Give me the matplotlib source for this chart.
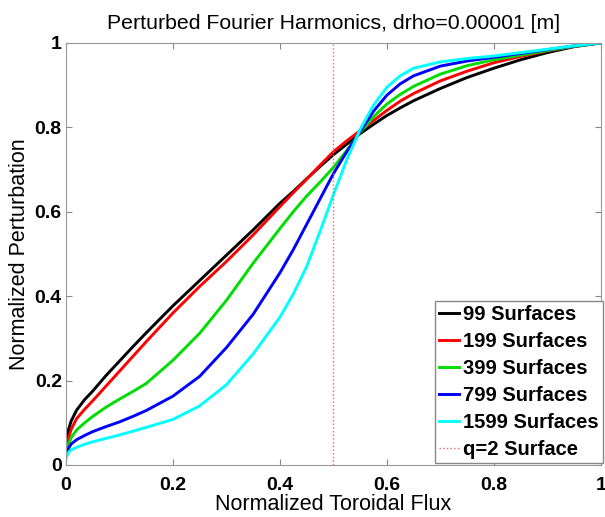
import numpy as np
import matplotlib
matplotlib.use("Agg")
import matplotlib.pyplot as plt

plt.rcParams["font.family"] = ["Liberation Sans", "DejaVu Sans"]

# normalized toroidal flux grid
flux = [0, 0.002, 0.005, 0.01, 0.02, 0.035, 0.05, 0.075, 0.1, 0.125, 0.15, 0.2, 0.25,
        0.3, 0.35, 0.4, 0.425, 0.45, 0.475, 0.5, 0.525, 0.55, 0.575, 0.6, 0.625, 0.65,
        0.7, 0.75, 0.8, 0.85, 0.9, 0.95, 1.0]

pert_99 = [0.03, 0.05, 0.085, 0.105, 0.13, 0.155, 0.175, 0.212, 0.246, 0.28, 0.313, 0.377, 0.437,
           0.497, 0.557, 0.62, 0.648, 0.678, 0.707, 0.735, 0.76, 0.785, 0.807, 0.828, 0.846, 0.863,
           0.892, 0.918, 0.94, 0.96, 0.977, 0.991, 1.0]
pert_199 = [0.03, 0.045, 0.065, 0.085, 0.11, 0.132, 0.152, 0.187, 0.222, 0.257, 0.292, 0.36, 0.423,
            0.482, 0.545, 0.612, 0.645, 0.677, 0.71, 0.742, 0.768, 0.792, 0.816, 0.84, 0.862, 0.88,
            0.91, 0.933, 0.953, 0.968, 0.981, 0.992, 1.0]
pert_399 = [0.025, 0.035, 0.05, 0.065, 0.083, 0.1, 0.115, 0.137, 0.156, 0.174, 0.193, 0.248, 0.312,
            0.39, 0.478, 0.56, 0.6, 0.637, 0.67, 0.705, 0.745, 0.788, 0.825, 0.855, 0.878, 0.897,
            0.926, 0.946, 0.96, 0.971, 0.982, 0.992, 1.0]
pert_799 = [0.02, 0.03, 0.04, 0.05, 0.06, 0.07, 0.079, 0.091, 0.102, 0.115, 0.129, 0.163, 0.21,
            0.278, 0.357, 0.455, 0.51, 0.57, 0.63, 0.69, 0.742, 0.79, 0.838, 0.876, 0.903, 0.922,
            0.945, 0.957, 0.966, 0.975, 0.984, 0.993, 1.0]
pert_1599 = [0.015, 0.022, 0.03, 0.036, 0.042, 0.049, 0.055, 0.063, 0.071, 0.08, 0.089, 0.108, 0.14,
             0.19, 0.263, 0.35, 0.405, 0.47, 0.553, 0.64, 0.723, 0.795, 0.852, 0.895, 0.922, 0.94,
             0.955, 0.963, 0.969, 0.977, 0.985, 0.993, 1.0]

series = [(pert_99, "k", "99 Surfaces"),
          (pert_199, "#ff0000", "199 Surfaces"),
          (pert_399, "#00dd00", "399 Surfaces"),
          (pert_799, "#0000ff", "799 Surfaces"),
          (pert_1599, "#00ffff", "1599 Surfaces")]

q2_flux = 0.5
ticks = [0, 0.2, 0.4, 0.6, 0.8, 1]
tick_labels = ["0", "0.2", "0.4", "0.6", "0.8", "1"]

fig = plt.figure(figsize=(6.05, 5.17), dpi=100)
ax = fig.add_axes([0.109, 0.1006, 0.884, 0.8164])

for vals, col, lab in series:
    ax.plot(flux, vals, color=col, lw=2.1, label=lab, solid_joinstyle="round")
ax.axvline(q2_flux, color="#ff6060", lw=1.0, ls=":", label="q=2 Surface")

ax.set_xlim(0, 1)
ax.set_ylim(0, 1)
ax.set_xticks(ticks)
ax.set_xticklabels(tick_labels)
ax.set_yticks(ticks)
ax.set_yticklabels(tick_labels)
ax.tick_params(direction="in", top=True, right=True, length=4, color="#888888",
               labelsize=14)
ax.tick_params(axis="x", pad=9)
ax.tick_params(axis="y", pad=3)
for t in ax.get_xticklabels() + ax.get_yticklabels():
    t.set_fontweight("bold")
for s in ax.spines.values():
    s.set_color("#999999")

ax.set_xlabel("Normalized Toroidal Flux", fontsize=15.5, labelpad=0)
ax.set_ylabel("Normalized Perturbation", fontsize=15.5, labelpad=3)
ax.set_title("Perturbed Fourier Harmonics, drho=0.00001 [m]", fontsize=15.3, pad=10)

leg = ax.legend(loc="lower right", bbox_to_anchor=(1.004, 0.004),
                prop={"weight": "bold", "size": 14.5},
                handlelength=1.0, handletextpad=0.2, borderaxespad=0.0,
                borderpad=0.2, labelspacing=0.4, fancybox=False, framealpha=1)
leg.get_frame().set_edgecolor("#888888")

fig.savefig("out.png", dpi=100)
